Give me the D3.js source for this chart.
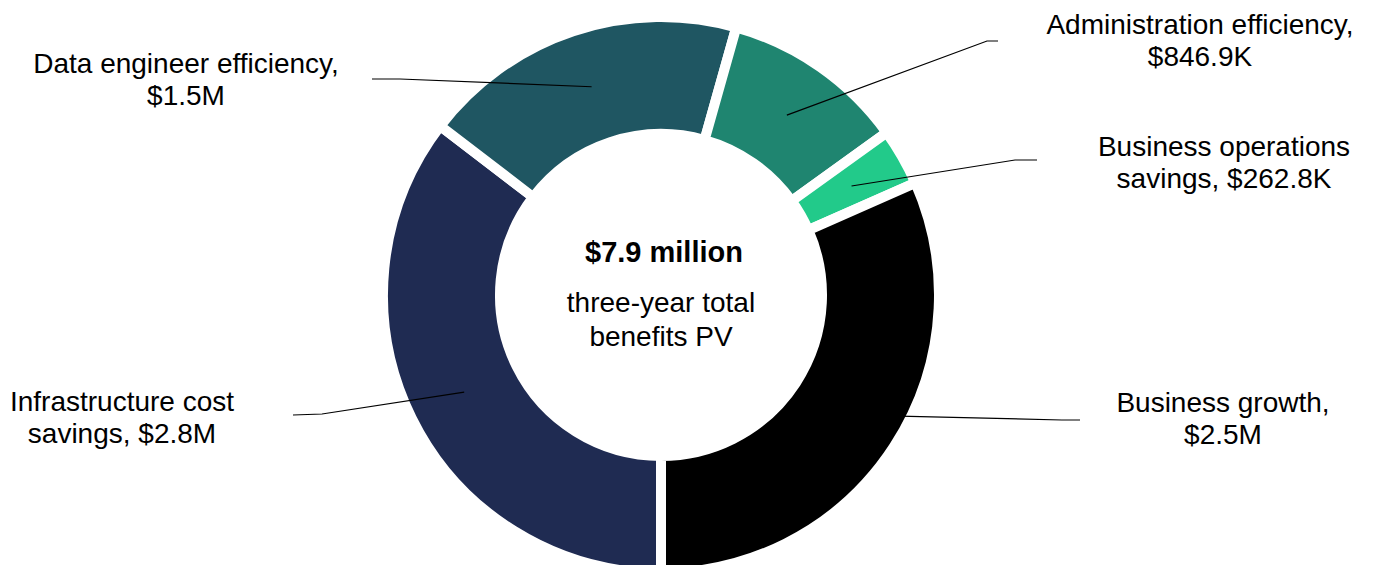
<!DOCTYPE html>
<html lang="en">
<head>
<meta charset="UTF-8">
<title>Three-year total benefits</title>
<script src="https://d3js.org/d3.v7.min.js"></script>
<style>
  body { margin: 0; background: #fff; }
  svg { display: block; font-family: "Liberation Sans", Arial, sans-serif; }
</style>
</head>
<body>
<svg id="chart" width="1374" height="565"></svg>
<script>
// benefit categories, in drawing order (clockwise from 6 o'clock)
const categories = ["Infrastructure cost savings", "Data engineer efficiency", "Administration efficiency", "Business operations savings", "Business growth"]
const values = [2.8, 1.5, 0.8469, 0.2628, 2.5]   // $M
const valueLabels = ["$2.8M", "$1.5M", "$846.9K", "$262.8K", "$2.5M"]
const labelLines = [
  ["Infrastructure cost", "savings, $2.8M"],
  ["Data engineer efficiency,", "$1.5M"],
  ["Administration efficiency,", "$846.9K"],
  ["Business operations", "savings, $262.8K"],
  ["Business growth,", "$2.5M"]
]
const colors = ["#1f2b52", "#1f5662", "#1f8570", "#22ca8a", "#000000"]

// label placement: text centre, first baseline, leader elbow and end
const labelPos = [
  { x: 122, y: 411, elbow: [322, 414], end: [293, 415] },
  { x: 186, y: 73, elbow: [400, 79], end: [372, 79] },
  { x: 1200, y: 34, elbow: [987, 41], end: [998, 41] },
  { x: 1224, y: 156, elbow: [1015, 160], end: [1037, 160] },
  { x: 1223, y: 412, elbow: [1062, 420], end: [1080, 420] }
]

const svg = d3.select("#chart")
const cx = 661, cy = 295
const outerR = 273, innerR = 166, gap = 10

const pie = d3.pie().sort(null).startAngle(Math.PI).endAngle(3 * Math.PI)
const arcs = pie(values)

// drawn slightly bigger, the white stroke trims it back to the visible ring
const arc = d3.arc().innerRadius(innerR - gap / 2).outerRadius(outerR + gap / 2)
const mid = d3.arc().innerRadius(innerR).outerRadius(outerR)

const g = svg.append("g").attr("transform", `translate(${cx},${cy})`)

g.selectAll("path.slice")
  .data(arcs)
  .enter()
  .append("path")
  .attr("class", "slice")
  .attr("d", arc)
  .attr("fill", (d, i) => colors[i])
  .attr("stroke", "#fff")
  .attr("stroke-width", gap)
  .attr("stroke-linejoin", "miter")

// leader lines
svg.selectAll("polyline.leader")
  .data(arcs)
  .enter()
  .append("polyline")
  .attr("class", "leader")
  .attr("points", (d, i) => {
    const c = mid.centroid(d)
    const p = labelPos[i]
    return [[c[0] + cx, c[1] + cy], p.elbow, p.end].map(q => q.join(",")).join(" ")
  })
  .attr("fill", "none")
  .attr("stroke", "#000")
  .attr("stroke-width", 1.2)

// category labels
const labels = svg.selectAll("text.label")
  .data(categories)
  .enter()
  .append("text")
  .attr("class", "label")
  .attr("text-anchor", "middle")
  .attr("font-size", 28)
  .attr("fill", "#000")

labels.each(function (d, i) {
  const t = d3.select(this)
  labelLines[i].forEach((line, k) => {
    t.append("tspan")
      .attr("x", labelPos[i].x)
      .attr("y", labelPos[i].y + k * 32)
      .text(line)
  })
})

// centre text
svg.append("text")
  .attr("x", 664).attr("y", 262)
  .attr("text-anchor", "middle")
  .attr("font-size", 29)
  .attr("font-weight", "bold")
  .text("$7.9 million")

svg.append("text")
  .attr("x", 661).attr("y", 312)
  .attr("text-anchor", "middle")
  .attr("font-size", 28)
  .text("three-year total")

svg.append("text")
  .attr("x", 661).attr("y", 346)
  .attr("text-anchor", "middle")
  .attr("font-size", 28)
  .text("benefits PV")
</script>
</body>
</html>
